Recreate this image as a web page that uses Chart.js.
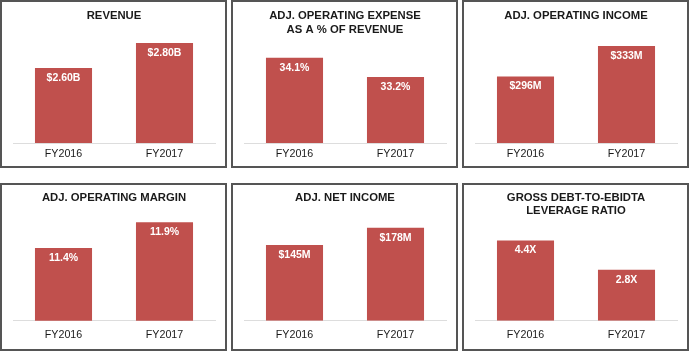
<!DOCTYPE html>
<html><head><meta charset="utf-8">
<script src="https://cdn.jsdelivr.net/npm/chart.js@4/dist/chart.umd.min.js"></script>
<style>
html,body{margin:0;padding:0;background:#fff;width:689px;height:351px;overflow:hidden}
.panel{position:absolute;box-sizing:border-box;border:2px solid #555;background:#fff}
.panel canvas{position:absolute;left:0;top:0}
</style></head><body>
<script>
// ---- data ----
const categories = ['FY2016', 'FY2017'];
const chartTitles = [
  ['REVENUE'],
  ['ADJ. OPERATING EXPENSE', 'AS A % OF REVENUE'],
  ['ADJ. OPERATING INCOME'],
  ['ADJ. OPERATING MARGIN'],
  ['ADJ. NET INCOME'],
  ['GROSS DEBT-TO-EBIDTA', 'LEVERAGE RATIO']
];
const revenue = [2.60, 2.80];          // $B
const opExpensePct = [34.1, 33.2];     // %
const opIncome = [296, 333];           // $M
const opMargin = [11.4, 11.9];         // %
const netIncome = [145, 178];          // $M
const leverageRatio = [4.4, 2.8];      // X
const revenueLabels = ['$2.60B', '$2.80B'];
const opExpenseLabels = ['34.1%', '33.2%'];
const opIncomeLabels = ['$296M', '$333M'];
const opMarginLabels = ['11.4%', '11.9%'];
const netIncomeLabels = ['$145M', '$178M'];
const leverageLabels = ['4.4X', '2.8X'];
const axisMin = [2.0, 30.13, 215.7, 10, 0, 0];
const axisMax = [2.848, 35.06, 343.9, 11.98, 196.7, 5.64];

const seriesList = [revenue, opExpensePct, opIncome, opMargin, netIncome, leverageRatio];
const labelList = [revenueLabels, opExpenseLabels, opIncomeLabels, opMarginLabels, netIncomeLabels, leverageLabels];

// ---- layout / style ----
const FONT = '"Liberation Sans", Arial, Helvetica, sans-serif';
const BAR = '#C0504D';
const colLeft = [0, 231, 462];
const rowTop = [0, 183];
const panelW = 227, panelH = 168, bw = 2;
const TITLE_SIZE = 11.3, TITLE_LH = 13.5;
const rowCfg = [
  { pt: 7.55, areaTop: 35, tickPad: 4.9, padBottom: 0.36 },
  { pt: 5.95, areaTop: 33, tickPad: 7.7, padBottom: 0.06 }
];

function makeValuePlugin(texts) {
  return {
    id: 'valueLabels',
    afterDatasetsDraw(chart) {
      const ctx = chart.ctx;
      const meta = chart.getDatasetMeta(0);
      ctx.save();
      ctx.fillStyle = '#ffffff';
      ctx.font = 'bold 10.5px ' + FONT;
      ctx.textAlign = 'center';
      ctx.textBaseline = 'middle';
      meta.data.forEach((bar, i) => ctx.fillText(texts[i], bar.x, bar.y + 10));
      ctx.restore();
    }
  };
}

for (let i = 0; i < 6; i++) {
  const r = Math.floor(i / 3), c = i % 3;
  const cfg = rowCfg[r];
  const div = document.createElement('div');
  div.className = 'panel';
  div.style.left = colLeft[c] + 'px';
  div.style.top = rowTop[r] + 'px';
  div.style.width = panelW + 'px';
  div.style.height = panelH + 'px';
  const cv = document.createElement('canvas');
  const cw = panelW - 2 * bw, ch = panelH - 2 * bw;
  cv.width = cw; cv.height = ch;
  cv.style.width = cw + 'px'; cv.style.height = ch + 'px';
  div.appendChild(cv);
  document.body.appendChild(div);

  const nLines = chartTitles[i].length;
  const pb = cfg.areaTop - cfg.pt - nLines * TITLE_LH;

  new Chart(cv.getContext('2d'), {
    type: 'bar',
    data: {
      labels: categories,
      datasets: [{
        data: seriesList[i],
        backgroundColor: BAR,
        borderWidth: 0,
        barPercentage: 0.565,
        categoryPercentage: 1
      }]
    },
    options: {
      responsive: false,
      animation: false,
      devicePixelRatio: 1,
      layout: { padding: { left: 11, right: 10, top: 0, bottom: cfg.padBottom } },
      plugins: {
        legend: { display: false },
        tooltip: { enabled: false },
        title: {
          display: true,
          text: chartTitles[i],
          color: '#1a1a1a',
          font: { family: FONT, size: TITLE_SIZE, weight: 'bold', lineHeight: TITLE_LH / TITLE_SIZE },
          padding: { top: cfg.pt, bottom: pb }
        }
      },
      scales: {
        x: {
          grid: { display: false, drawTicks: false },
          border: { display: true, color: '#dddddd', width: 1 },
          ticks: { color: '#1a1a1a', font: { family: FONT, size: 10.7 }, padding: cfg.tickPad }
        },
        y: { display: false, min: axisMin[i], max: axisMax[i] }
      }
    },
    plugins: [makeValuePlugin(labelList[i])]
  });
}
</script>
</body></html>
